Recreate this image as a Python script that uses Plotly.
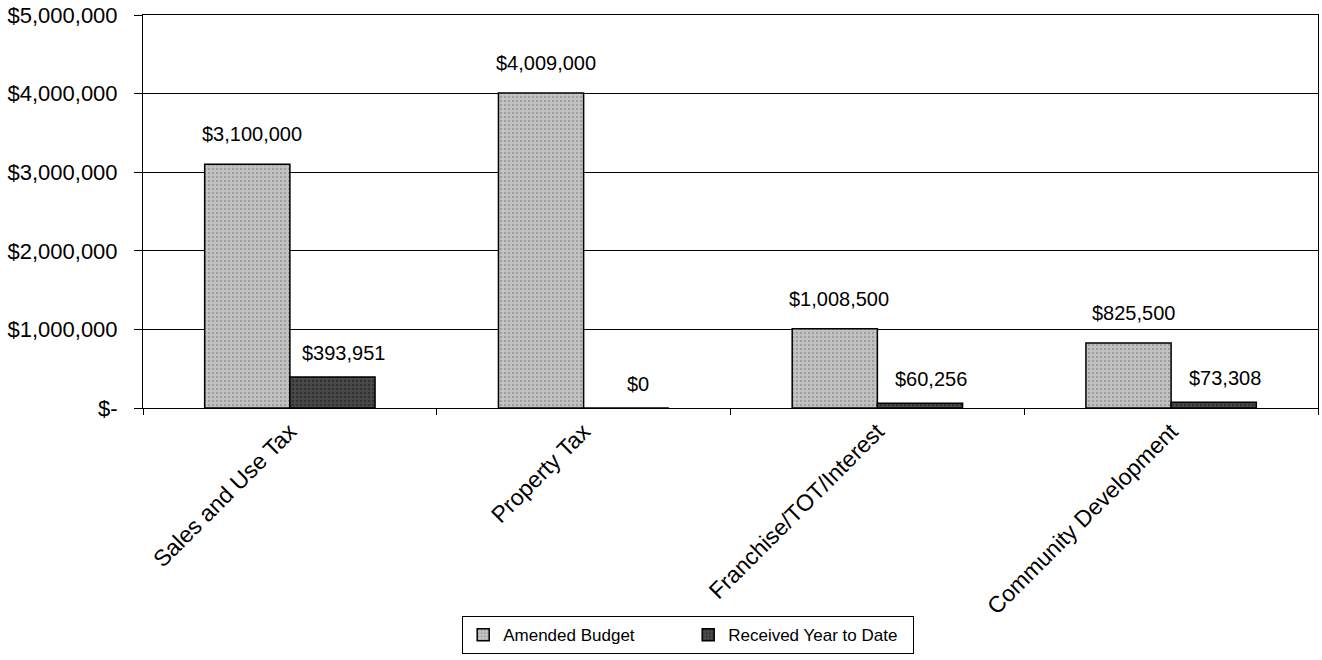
import plotly.graph_objects as go

categories = ['Sales and Use Tax', 'Property Tax', 'Franchise/TOT/Interest', 'Community Development']
amended_budget = [3100000, 4009000, 1008500, 825500]
received_ytd = [393951, 0, 60256, 73308]
y_ticks = [0, 1000000, 2000000, 3000000, 4000000, 5000000]
y_tick_text = ['$-', '$1,000,000', '$2,000,000', '$3,000,000', '$4,000,000', '$5,000,000']

FONT = 'Liberation Sans, Arial, sans-serif'

fig = go.Figure()
fig.add_trace(go.Bar(
    x=categories, y=amended_budget, name='Amended Budget',
    marker=dict(color='#c4c4c4', line=dict(color='black', width=1.5),
                pattern=dict(shape='.', fgcolor='#7a7a7a', size=4, solidity=0.3)),
))
fig.add_trace(go.Bar(
    x=categories, y=received_ytd, name='Received Year to Date',
    marker=dict(color='#4a4a4a', line=dict(color='black', width=1.5),
                pattern=dict(shape='.', fgcolor='#1a1a1a', size=4, solidity=0.35)),
))

# value labels above each bar
for cat, v in zip(categories, amended_budget):
    fig.add_annotation(x=cat, y=v, text=f'${v:,}', showarrow=False,
                       xshift=-38, yshift=30, font=dict(size=20, color='black', family=FONT))
for cat, v in zip(categories, received_ytd):
    fig.add_annotation(x=cat, y=v, text=f'${v:,}', showarrow=False,
                       xshift=54, yshift=24, font=dict(size=20, color='black', family=FONT))

fig.update_layout(
    width=1322, height=660,
    margin=dict(l=143, r=4, t=15, b=252),
    plot_bgcolor='white', paper_bgcolor='white',
    barmode='group', bargap=0.42, bargroupgap=0,
    font=dict(family=FONT, color='black'),
    showlegend=True,
    legend=dict(orientation='h', x=0.464, xanchor='center', y=-0.53, yanchor='top',
                bordercolor='black', borderwidth=1, font=dict(size=17),
                itemwidth=30, traceorder='normal', entrywidth=180),
)
fig.update_yaxes(range=[0, 5000000], tickvals=y_ticks, ticktext=y_tick_text,
                 showgrid=True, gridcolor='black', gridwidth=1,
                 showline=True, linecolor='black', linewidth=1, mirror=True,
                 ticks='outside', ticklen=8, tickcolor='black', automargin=False,
                 ticklabelstandoff=12, tickfont=dict(size=22), zeroline=False)
fig.update_xaxes(tickangle=-45, tickson='boundaries', ticks='outside', ticklen=6,
                 tickcolor='black', showline=True, linecolor='black', linewidth=1,
                 mirror=True, automargin=False, tickfont=dict(size=23))

# drop the default 8px body margin so the figure sits at the page corner
fig.write_html('out.html', config={'displayModeBar': False},
               post_script="document.body.style.margin = '0';")
